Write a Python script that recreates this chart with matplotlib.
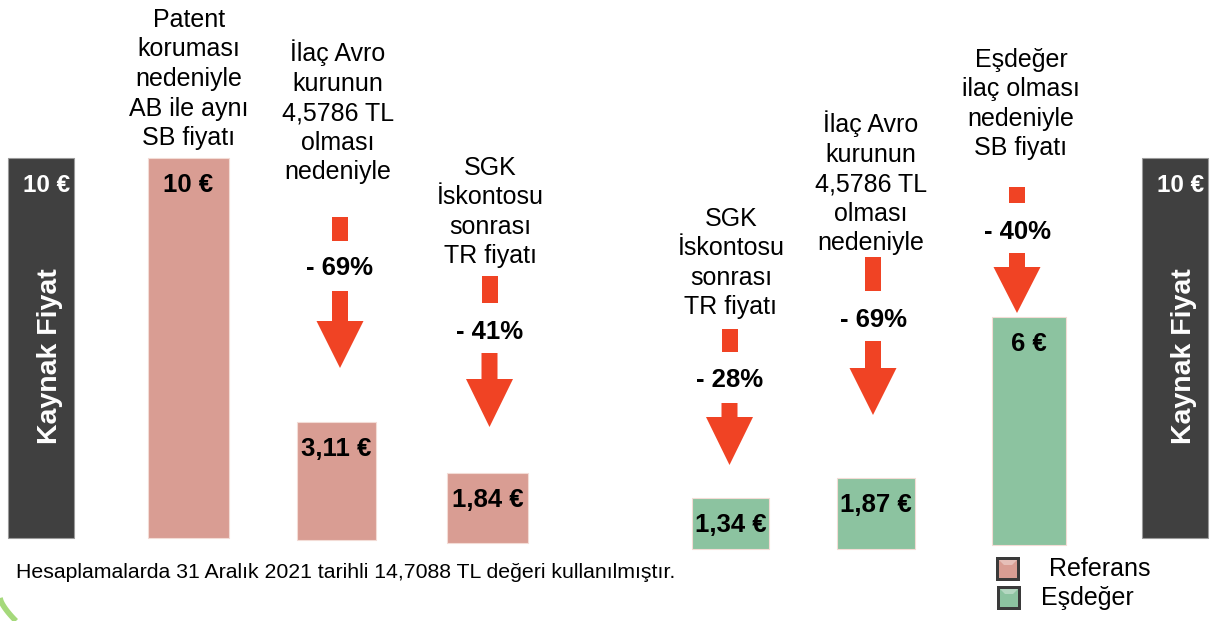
import numpy as np
import matplotlib.pyplot as plt
from matplotlib.patches import Polygon, Rectangle

plt.rcParams['font.family'] = ['Liberation Sans', 'DejaVu Sans']

# canvas in pixels, bar heights in euro
W, H = 1215, 621
PX = 38.0  # pixels per euro

source_price = 10
source_label = "Kaynak Fiyat"

steps = [
    "Patent\nkoruması\nnedeniyle\nAB ile aynı\nSB fiyatı",
    "İlaç Avro\nkurunun\n4,5786 TL\nolması\nnedeniyle",
    "SGK\nİskontosu\nsonrası\nTR fiyatı",
    "SGK\nİskontosu\nsonrası\nTR fiyatı",
    "İlaç Avro\nkurunun\n4,5786 TL\nolması\nnedeniyle",
    "Eşdeğer\nilaç olması\nnedeniyle\nSB fiyatı",
]
prices = [10, 3.11, 1.84, 1.34, 1.87, 6]
groups = ["Referans", "Referans", "Referans", "Eşdeğer", "Eşdeğer", "Eşdeğer"]
# which price each step starts from (None = no arrow)
step_from = [None, 0, 1, 4, 5, 0]

footnote = "Hesaplamalarda 31 Aralık 2021 tarihli 14,7088 TL değeri kullanılmıştır."

colors = {"Referans": "#d99d93", "Eşdeğer": "#8cc3a0"}
dark = "#404040"
red = "#f04324"

# layout (pixel units)
bar_x = [188.5, 336.5, 487.5, 730.5, 876, 1029]
bar_w = [81, 79, 81, 77, 78, 74]
bar_base = [538, 540, 543, 549, 549, 545]
head_x = [189, 338, 490, 731, 871, 1021]
head_y = [79, 112, 212, 263, 183, 104]
# arrow: x, square top, square bottom, text y, shaft top, head start, tip
arrows = {
    1: (340, 217, 241, 268, 291, 321, 368),
    2: (489.5, 276, 303, 332, 353, 379, 427),
    3: (729.5, 329, 352, 380, 403, 417, 465),
    4: (873, 257, 291, 320, 341, 368, 415),
    5: (1017, 187, 203, 232, 253, 267, 313),
}
side_x = [41, 1175]


def ey(row):
    return (H - row) / PX


fig = plt.figure(figsize=(W / 100, H / 100), dpi=100)
ax = fig.add_axes([0, 0, 1, 1])
ax.set_xlim(0, W)
ax.set_ylim(0, H / PX)
ax.axis('off')

# dark source price columns on both sides
ax.bar(side_x, [source_price] * 2, width=66, bottom=ey(537.5),
       color=dark, edgecolor='#9a9a9a', linewidth=0.8)
for x in side_x:
    ax.annotate(f"{source_price} €", xy=(x + 29, ey(537.5) + source_price),
                xytext=(0, -28), textcoords='offset pixels', color='white',
                fontsize=17.5, fontweight='bold', ha='right', va='center')
    ax.text(x + 9, ey(356), source_label, color='white',
            fontsize=20.5, fontweight='bold', rotation=90, ha='center', va='center')

# price bars
bottoms = [ey(b) for b in bar_base]
ax.bar(bar_x, prices, width=bar_w, bottom=bottoms,
       color=[colors[g] for g in groups], edgecolor='#f3dcd6', linewidth=0.8)

for i, p in enumerate(prices):
    ax.annotate(f"{p:g} €".replace('.', ','), xy=(bar_x[i], bottoms[i] + p),
                xytext=(0, -27), textcoords='offset pixels',
                ha='center', va='center', fontsize=18.5, fontweight='bold')
    ax.text(head_x[i], ey(head_y[i]), steps[i], ha='center', va='center',
            fontsize=18, linespacing=1.29)

# reduction arrows
sw, hw = 8, 23.5
for i, (x, sq0, sq1, ty, s0, h0, tip) in arrows.items():
    ax.add_patch(Rectangle((x - sw, ey(sq1)), 2 * sw, (sq1 - sq0) / PX,
                           color=red, lw=0))
    pct = round((1 - prices[i] / prices[step_from[i]]) * 100)
    ax.text(x, ey(ty), f"- {pct}%", ha='center', va='center',
            fontsize=18.5, fontweight='bold')
    pts = [(x - sw, ey(s0)), (x + sw, ey(s0)), (x + sw, ey(h0)), (x + hw, ey(h0)),
           (x, ey(tip)), (x - hw, ey(h0)), (x - sw, ey(h0))]
    ax.add_patch(Polygon(pts, closed=True, color=red, lw=0))

# footnote
ax.text(16, ey(572), footnote, ha='left', va='center', fontsize=15.3)

# legend with bevelled boxes
for k, (g, row, tx) in enumerate([("Referans", 557, 1049), ("Eşdeğer", 586, 1041)]):
    x0 = 996 + k
    ax.add_patch(Rectangle((x0, ey(row + 24)), 24, 24 / PX,
                           facecolor='#3a3a3a', lw=0))
    ax.add_patch(Rectangle((x0 + 3, ey(row + 21)), 18, 18 / PX,
                           facecolor=colors[g], lw=0))
    ax.add_patch(Polygon([(x0 + 3, ey(row + 3)), (x0 + 21, ey(row + 3)),
                          (x0 + 16, ey(row + 8)), (x0 + 8, ey(row + 8))],
                         closed=True, facecolor='white', alpha=0.35, lw=0))
    ax.text(tx, ey(row + 12), g, ha='left', va='center', fontsize=18)

# green corner swoosh
t = np.linspace(0, 1, 20)
ax.plot(16 * t, ey(598 + 23 * t ** 0.7), color='#8fd05a', lw=4,
        alpha=0.8, solid_capstyle='butt')

fig.savefig('out.png', dpi=100)
